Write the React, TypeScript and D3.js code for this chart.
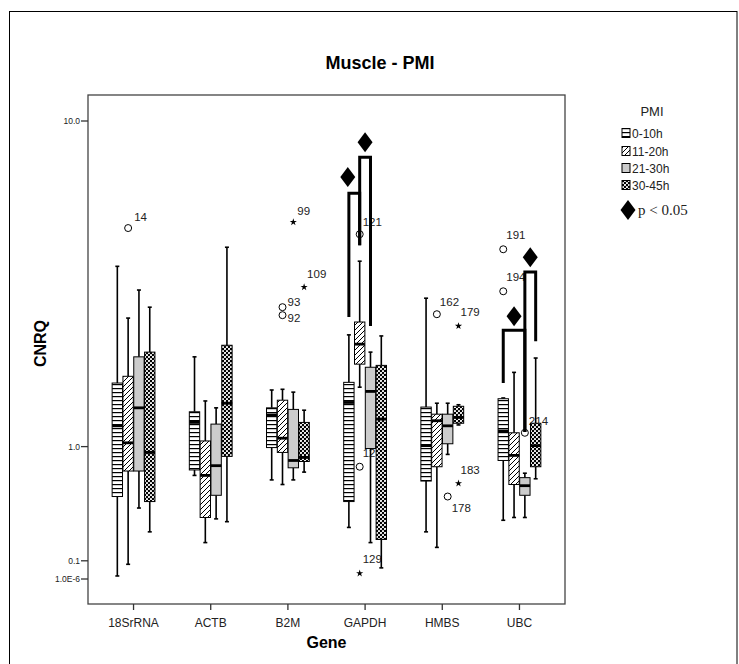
import React from "react";
import * as d3 from "d3";

// ---------- DATA ----------
const genes = ["18SrRNA", "ACTB", "B2M", "GAPDH", "HMBS", "UBC"];
const pmiGroups = ["0-10h", "11-20h", "21-30h", "30-45h"];

// [whiskerLow, Q1, median, Q3, whiskerHigh] per gene, one array per PMI group
const box0to10h = [
  [0.016, 0.54, 1.23, 1.79, 4.14],
  [0.72, 0.77, 1.27, 1.4, 2.2],
  [0.68, 0.99, 1.36, 1.45, 1.69],
  [0.31, 0.5, 1.52, 1.8, 2.59],
  [0.28, 0.67, 1.01, 1.46, 3.35],
  [0.36, 0.86, 1.17, 1.57, 1.58],
];
const box11to20h = [
  [0.08, 0.76, 1.04, 1.89, 2.92],
  [0.21, 0.38, 0.72, 1.06, 1.54],
  [0.64, 0.94, 1.09, 1.55, 1.7],
  [1.73, 2.08, 2.42, 2.84, 4.28],
  [0.18, 0.8, 1.29, 1.37, 1.51],
  [0.38, 0.64, 0.91, 1.15, 1.95],
];
const box21to30h = [
  [0.45, 0.76, 1.45, 2.2, 3.54],
  [0.37, 0.55, 0.81, 1.25, 1.45],
  [0.68, 0.79, 0.86, 1.43, 1.66],
  [0.21, 0.98, 1.67, 2.03, 2.28],
  [0.92, 1.03, 1.23, 1.37, 1.51],
  [0.38, 0.55, 0.63, 0.7, 0.74],
];
const box30to45h = [
  [0.28, 0.5, 0.94, 2.28, 3.15],
  [0.35, 0.9, 1.51, 2.4, 4.68],
  [0.75, 0.85, 0.89, 1.27, 1.42],
  [0.06, 0.23, 1.31, 2.06, 2.57],
  [1.24, 1.26, 1.33, 1.47, 1.49],
  [0.69, 0.8, 1.01, 1.26, 2.18],
];
const boxSeries = [box0to10h, box11to20h, box21to30h, box30to45h];

// outliers: gene, group, value, case label, kind
const outliers = [
  { gene: "18SrRNA", group: "11-20h", value: 5.28, label: "14", kind: "circle" },
  { gene: "B2M", group: "21-30h", value: 5.48, label: "99", kind: "star" },
  { gene: "B2M", group: "30-45h", value: 3.61, label: "109", kind: "star" },
  { gene: "B2M", group: "11-20h", value: 3.15, label: "93", kind: "circle" },
  { gene: "B2M", group: "11-20h", value: 2.98, label: "92", kind: "circle" },
  { gene: "GAPDH", group: "11-20h", value: 5.08, label: "121", kind: "circle" },
  { gene: "GAPDH", group: "11-20h", value: 0.8, label: "129", kind: "circle" },
  { gene: "GAPDH", group: "11-20h", value: 0.03, label: "129", kind: "star" },
  { gene: "HMBS", group: "11-20h", value: 3.0, label: "162", kind: "circle" },
  { gene: "HMBS", group: "30-45h", value: 2.76, label: "179", kind: "star" },
  { gene: "HMBS", group: "30-45h", value: 0.65, label: "183", kind: "star" },
  { gene: "HMBS", group: "21-30h", value: 0.54, label: "178", kind: "circle" },
  { gene: "UBC", group: "0-10h", value: 4.62, label: "191", kind: "circle" },
  { gene: "UBC", group: "0-10h", value: 3.51, label: "194", kind: "circle" },
  { gene: "UBC", group: "21-30h", value: 1.15, label: "214", kind: "circle" },
];
// label placement (dx, dy) relative to each outlier, same order
const outlierLabelOffsets = [
  [6, -7], [4, -7], [3, -9], [5, -1], [5, 7], [3, -8], [3, -10], [3, -10],
  [3, -8], [2, -10], [2, -9], [4, 15], [3, -10], [3, -10], [4, -8],
];

// significance brackets: gene, from group, to group, top, leg ends, diamond
const brackets = [
  { gene: "GAPDH", from: "0-10h", to: "11-20h", top: 6.54, fromEnd: 2.94, toEnd: 4.74, marker: 7.2 },
  { gene: "GAPDH", from: "11-20h", to: "21-30h", top: 8.1, fromEnd: 4.74, toEnd: 2.76, marker: 8.84 },
  { gene: "UBC", from: "0-10h", to: "21-30h", top: 2.68, fromEnd: 1.79, toEnd: 1.16, marker: 2.96 },
  { gene: "UBC", from: "21-30h", to: "30-45h", top: 3.99, fromEnd: 1.16, toEnd: 2.47, marker: 4.39 },
];
const bracketMarkerShift = [-6.5, 0, 0, 0];

const yTickValues = [10, 1, 0.1, 0.000001];
const yTickLabels = ["10.0", "1.0", "0.1", "1.0E-6"];

// ---------- LAYOUT ----------
const W = 739;
const H = 664;
const plot = { left: 88, right: 565, top: 95, bottom: 604 };
const SANS = "'Liberation Sans', Arial, sans-serif";
const SERIF = "'Liberation Serif', 'Times New Roman', serif";
const patternIds = ["pat-h", "pat-d", "pat-g", "pat-c"];

export default function App() {
  const x = d3.scalePoint<string>().domain(genes).range([plot.left, plot.right]).padding(0.59);
  const inner = d3.scaleBand<string>().domain(pmiGroups).range([-21.4, 21.4]).paddingInner(0.04);
  const bw = inner.bandwidth();
  const y = d3.scaleSymlog().constant(1).domain([0, 10]).range([579, 121]);
  const cx = (gene: string, group: string) => (x(gene) as number) + (inner(group) as number) + bw / 2;
  const star = d3.symbol().type(d3.symbolStar).size(16)();

  const legendRows = [133, 151, 168, 185];

  return (
    <svg
      width={W}
      height={H}
      style={{ position: "absolute", left: 0, top: 0, background: "#fff" }}
      fontFamily={SANS}
    >
      <defs>
        <pattern id="pat-h" patternUnits="userSpaceOnUse" width={4} height={4}>
          <rect width={4} height={4} fill="#fff" />
          <rect width={4} height={1.2} fill="#000" />
        </pattern>
        <pattern id="pat-d" patternUnits="userSpaceOnUse" width={5} height={5}>
          <rect width={5} height={5} fill="#fff" />
          <path d="M0,5 L5,0 M-1.25,1.25 L1.25,-1.25 M3.75,6.25 L6.25,3.75" stroke="#000" strokeWidth={1} />
        </pattern>
        <pattern id="pat-g" patternUnits="userSpaceOnUse" width={4} height={4}>
          <rect width={4} height={4} fill="#cccccc" />
        </pattern>
        <pattern id="pat-c" patternUnits="userSpaceOnUse" width={4} height={4}>
          <rect width={4} height={4} fill="#000" />
          <circle cx={1} cy={1} r={1.1} fill="#fff" />
          <circle cx={3} cy={3} r={1.1} fill="#fff" />
        </pattern>
      </defs>

      {/* outer frame */}
      <rect x={9.5} y={11.5} width={727.5} height={700} fill="#fff" stroke="#000" strokeWidth={1} />

      {/* title */}
      <text x={380} y={69} textAnchor="middle" fontSize={18} fontWeight="bold">
        Muscle - PMI
      </text>

      {/* plot frame */}
      <rect
        x={plot.left}
        y={plot.top}
        width={plot.right - plot.left}
        height={plot.bottom - plot.top}
        fill="#fff"
        stroke="#444"
        strokeWidth={1.3}
      />

      {/* y axis ticks */}
      {yTickValues.map((v, i) => (
        <g key={"yt" + i}>
          <line x1={plot.left - 7} x2={plot.left} y1={y(v)} y2={y(v)} stroke="#333" strokeWidth={1.3} />
          <text x={plot.left - 8} y={y(v) + 3} textAnchor="end" fontSize={8.5} fill="#222">
            {yTickLabels[i]}
          </text>
        </g>
      ))}
      <text
        transform={`translate(40,${(plot.top + plot.bottom) / 2 - 6}) rotate(-90)`}
        textAnchor="middle"
        fontSize={16}
        fontWeight="bold"
        dy={6}
      >
        CNRQ
      </text>

      {/* x axis ticks */}
      {genes.map((g) => (
        <g key={"xt" + g}>
          <line x1={x(g)} x2={x(g)} y1={plot.bottom} y2={plot.bottom + 6} stroke="#333" strokeWidth={1.3} />
          <text x={x(g)} y={plot.bottom + 23} textAnchor="middle" fontSize={12} fill="#222">
            {g}
          </text>
        </g>
      ))}
      <text x={(plot.left + plot.right) / 2} y={648} textAnchor="middle" fontSize={16} fontWeight="bold">
        Gene
      </text>

      {/* outlier labels (under boxes) */}
      {outliers.map((o, i) => (
        <text
          key={"ol" + i}
          x={cx(o.gene, o.group) + outlierLabelOffsets[i][0]}
          y={y(o.value) + outlierLabelOffsets[i][1]}
          fontSize={11.5}
          fill="#222"
        >
          {o.label}
        </text>
      ))}

      {/* boxes */}
      {boxSeries.map((series, gi) =>
        series.map((s, ji) => {
          const grp = pmiGroups[gi];
          const gene = genes[ji];
          const c = cx(gene, grp);
          const [lo, q1, med, q3, hi] = s;
          return (
            <g key={`b${gi}-${ji}`}>
              <line x1={c} x2={c} y1={y(q3)} y2={y(hi)} stroke="#000" strokeWidth={1.6} />
              <line x1={c} x2={c} y1={y(q1)} y2={y(lo)} stroke="#000" strokeWidth={1.6} />
              <line x1={c - 2} x2={c + 2} y1={y(hi)} y2={y(hi)} stroke="#000" strokeWidth={1.6} />
              <line x1={c - 2} x2={c + 2} y1={y(lo)} y2={y(lo)} stroke="#000" strokeWidth={1.6} />
              <rect
                x={c - bw / 2}
                y={y(q3)}
                width={bw}
                height={y(q1) - y(q3)}
                fill={`url(#${patternIds[gi]})`}
                stroke="#000"
                strokeWidth={1}
              />
              <line x1={c - bw / 2} x2={c + bw / 2} y1={y(med)} y2={y(med)} stroke="#000" strokeWidth={2.8} />
            </g>
          );
        })
      )}

      {/* outliers */}
      {outliers.map((o, i) => {
        const c = cx(o.gene, o.group);
        return o.kind === "circle" ? (
          <circle key={"o" + i} cx={c} cy={y(o.value)} r={3.5} fill="none" stroke="#000" strokeWidth={1} />
        ) : (
          <path key={"o" + i} d={star as string} transform={`translate(${c},${y(o.value)})`} fill="#000" />
        );
      })}

      {/* significance brackets */}
      {brackets.map((b, i) => {
        const x1 = cx(b.gene, b.from);
        const x2 = cx(b.gene, b.to);
        const mx = (x1 + x2) / 2 + bracketMarkerShift[i];
        const my = y(b.marker);
        return (
          <g key={"br" + i}>
            <path
              d={`M${x1},${y(b.fromEnd)} L${x1},${y(b.top)} L${x2},${y(b.top)} L${x2},${y(b.toEnd)}`}
              fill="none"
              stroke="#000"
              strokeWidth={3}
            />
            <path d={`M${mx},${my - 10} L${mx + 7.5},${my} L${mx},${my + 10} L${mx - 7.5},${my} Z`} fill="#000" />
          </g>
        );
      })}

      {/* legend */}
      <text x={652} y={116} textAnchor="middle" fontSize={13} fill="#222">
        PMI
      </text>
      {pmiGroups.map((g, i) => (
        <g key={"lg" + g}>
          <rect
            x={622}
            y={legendRows[i] - 4.5}
            width={8}
            height={9}
            fill={`url(#${patternIds[i]})`}
            stroke="#000"
            strokeWidth={1}
          />
          <text x={632} y={legendRows[i] + 4.5} fontSize={12} fill="#222">
            {g}
          </text>
        </g>
      ))}
      <path d="M628,200 L635.5,210 L628,220 L620.5,210 Z" fill="#000" />
      <text x={638} y={215} fontSize={15} fontFamily={SERIF} fill="#222">
        p &lt; 0.05
      </text>
    </svg>
  );
}
